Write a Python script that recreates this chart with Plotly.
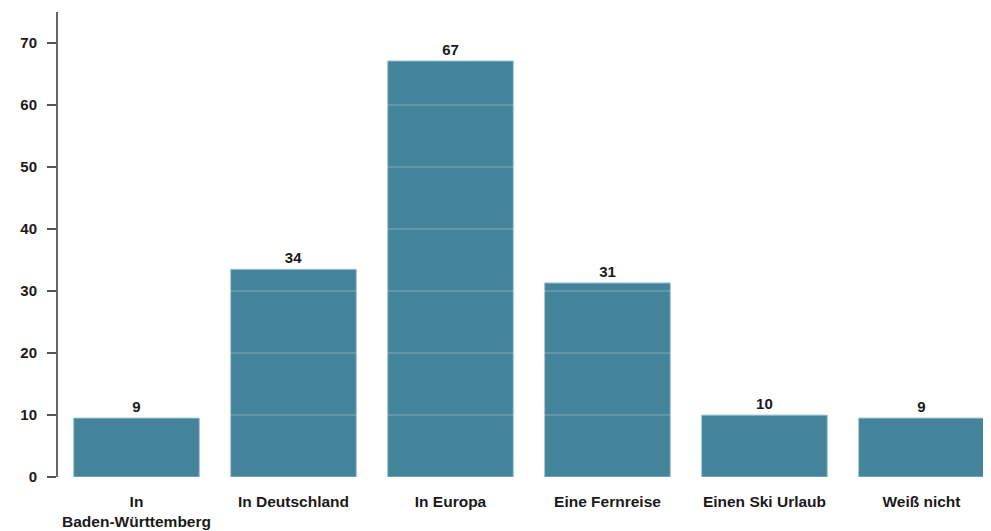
import plotly.graph_objects as go

categories = ["In<br>Baden-Württemberg", "In Deutschland", "In Europa", "Eine Fernreise", "Einen Ski Urlaub", "Weiß nicht"]
values = [9.5, 33.5, 67.1, 31.3, 10.0, 9.5]
labels = ["9", "34", "67", "31", "10", "9"]
y_ticks = [0, 10, 20, 30, 40, 50, 60, 70]

bar_color = "#44849A"
FONT = "Liberation Sans, Arial"

fig = go.Figure()
fig.add_trace(go.Bar(
    x=categories, y=values,
    text=labels, textposition="outside", cliponaxis=False,
    textfont=dict(family=FONT, size=15, color="#1a1a1a", weight="bold"),
    marker=dict(color=bar_color, line=dict(color="#9cc3d0", width=1)),
    hoverinfo="skip",
))

for t in y_ticks[1:]:
    fig.add_shape(type="line", xref="x domain", yref="y", x0=0, x1=1, y0=t, y1=t,
                  line=dict(color="rgba(255,255,255,0.2)", width=1.5), layer="above")

fig.update_layout(
    width=983, height=523,
    margin=dict(l=50, r=0, t=4, b=54, autoexpand=False),
    plot_bgcolor="white", paper_bgcolor="white",
    showlegend=False, bargap=0.2,
    font=dict(family=FONT, size=15, color="#1a1a1a"),
    xaxis=dict(range=[-0.5, 5.443], showline=False, showgrid=False, ticks="",
               tickfont=dict(size=15.5, color="#1a1a1a", weight="bold"), ticklabelstandoff=13,
               automargin=False),
    yaxis=dict(range=[0, 75], tickvals=y_ticks, showgrid=False, zeroline=False,
               showline=True, linecolor="#666666", linewidth=2,
               ticks="outside", ticklen=9, tickwidth=2, tickcolor="#555555",
               tickfont=dict(size=15, color="#1a1a1a", weight="bold"), ticklabelstandoff=7,
               automargin=False),
)

fig.write_html("out.html")
